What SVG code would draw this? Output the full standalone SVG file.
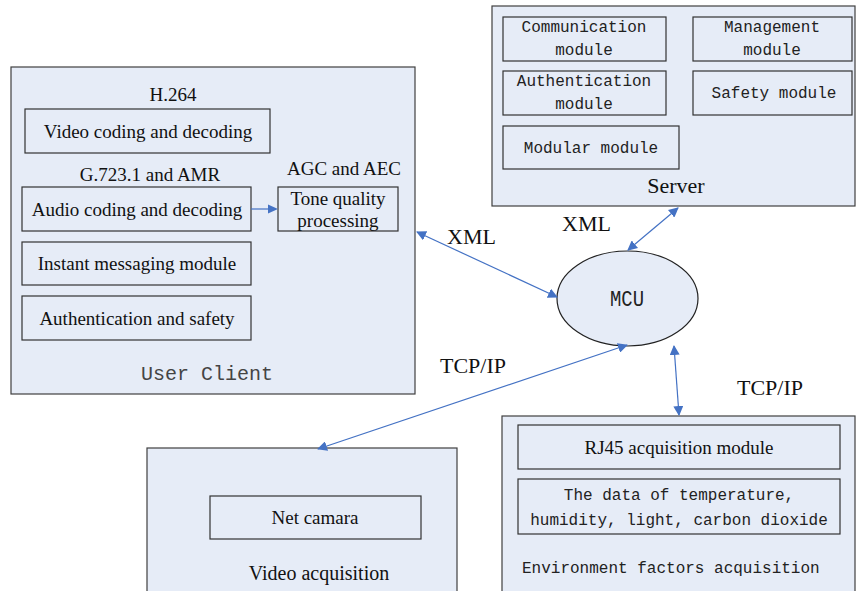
<svg xmlns="http://www.w3.org/2000/svg" width="856" height="591" viewBox="0 0 856 591">
<style>
.box{fill:#E6ECF7;stroke:#404040;stroke-width:1.2}
.inner{fill:#E6ECF7;stroke:#333;stroke-width:1.2}
.serif{font-family:"Liberation Serif","Times New Roman",serif;fill:#111}
.mono{font-family:"Liberation Mono","DejaVu Sans Mono",monospace;fill:#222}
.conn{stroke:#4472C4;stroke-width:1.2;fill:none;marker-start:url(#ah);marker-end:url(#ah)}
</style>
<defs>
<marker id="ah" viewBox="0 0 10 10" refX="9" refY="5" markerWidth="10" markerHeight="10" markerUnits="userSpaceOnUse" orient="auto-start-reverse">
<path d="M0,0 L10,5 L0,10 Z" fill="#4472C4"/>
</marker>
</defs>
<rect width="856" height="591" fill="#fff"/>

<g id="server">
<rect class="box" x="492" y="6" width="363" height="200"/>
<rect class="inner" x="503" y="17" width="163" height="44"/>
<text class="mono" font-size="16" text-anchor="middle" x="584" y="32">Communication</text>
<text class="mono" font-size="16" text-anchor="middle" x="584" y="55">module</text>
<rect class="inner" x="693" y="17" width="159" height="44"/>
<text class="mono" font-size="16" text-anchor="middle" x="772" y="32">Management</text>
<text class="mono" font-size="16" text-anchor="middle" x="772" y="55">module</text>
<rect class="inner" x="503" y="71" width="163" height="44"/>
<text class="mono" font-size="16" text-anchor="middle" x="584" y="86">Authentication</text>
<text class="mono" font-size="16" text-anchor="middle" x="584" y="109">module</text>
<rect class="inner" x="693" y="71" width="159" height="44"/>
<text class="mono" font-size="16" text-anchor="middle" x="774" y="98">Safety module</text>
<rect class="inner" x="503" y="126" width="176" height="43"/>
<text class="mono" font-size="16" text-anchor="middle" x="591" y="153">Modular module</text>
<text class="serif" font-size="22" text-anchor="middle" x="676" y="193">Server</text>
</g>

<g id="user-client">
<rect class="box" x="11" y="67" width="404" height="327"/>
<text class="serif" font-size="19" text-anchor="middle" x="173" y="101">H.264</text>
<rect class="inner" x="25" y="109" width="245" height="44"/>
<text class="serif" font-size="19" text-anchor="middle" x="148" y="138">Video coding and decoding</text>
<text class="serif" font-size="19" text-anchor="middle" x="150" y="181">G.723.1 and AMR</text>
<rect class="inner" x="22" y="187" width="229" height="44"/>
<text class="serif" font-size="19" text-anchor="middle" x="137" y="216">Audio coding and decoding</text>
<text class="serif" font-size="19" text-anchor="middle" x="344" y="175">AGC and AEC</text>
<rect class="inner" x="278" y="187" width="120" height="44"/>
<text class="serif" font-size="19" text-anchor="middle" x="338" y="205">Tone quality</text>
<text class="serif" font-size="19" text-anchor="middle" x="338" y="227">processing</text>
<rect class="inner" x="22" y="242" width="229" height="43"/>
<text class="serif" font-size="19" text-anchor="middle" x="137" y="270">Instant messaging module</text>
<rect class="inner" x="22" y="296" width="229" height="44"/>
<text class="serif" font-size="19" text-anchor="middle" x="137" y="325">Authentication and safety</text>
<text class="mono" font-size="20" text-anchor="middle" x="207" y="380" style="fill:#444">User Client</text>
</g>

<g id="mcu">
<ellipse cx="627.5" cy="298.5" rx="70.5" ry="47.5" fill="#E6ECF7" stroke="#222" stroke-width="1.2"/>
<text class="mono" font-size="22" text-anchor="middle" x="627" y="306" textLength="34" lengthAdjust="spacingAndGlyphs">MCU</text>
</g>

<g id="video-acquisition">
<rect class="box" x="147" y="448" width="310" height="150"/>
<rect class="inner" x="210" y="496" width="211" height="43"/>
<text class="serif" font-size="19" text-anchor="middle" x="315" y="524">Net camara</text>
<text class="serif" font-size="20" text-anchor="middle" x="319" y="580">Video acquisition</text>
</g>

<g id="environment">
<rect class="box" x="502" y="416" width="353" height="180"/>
<rect class="inner" x="518" y="425" width="322" height="44"/>
<text class="serif" font-size="19" text-anchor="middle" x="679" y="454">RJ45 acquisition module</text>
<rect class="inner" x="518" y="479" width="322" height="55"/>
<text class="mono" font-size="16" text-anchor="middle" x="679" y="500">The data of temperature,</text>
<text class="mono" font-size="16" text-anchor="middle" x="679" y="525">humidity, light, carbon dioxide</text>
<text class="mono" font-size="16" x="522" y="573">Environment factors acquisition</text>
</g>

<g id="connectors">
<line class="conn" x1="417" y1="232" x2="557" y2="297"/>
<line class="conn" x1="678" y1="208" x2="628" y2="250"/>
<line class="conn" x1="627" y1="345" x2="318" y2="449"/>
<line class="conn" x1="674" y1="346" x2="679" y2="415"/>
<line stroke="#4472C4" stroke-width="1.2" x1="251" y1="209" x2="268" y2="209"/>
<path d="M268,204.5 L278,209 L268,213.5 Z" fill="#4472C4"/>
<text class="serif" font-size="22" x="447" y="244">XML</text>
<text class="serif" font-size="22" x="562" y="231">XML</text>
<text class="serif" font-size="22" x="440" y="373">TCP/IP</text>
<text class="serif" font-size="22" x="737" y="395">TCP/IP</text>
</g>
</svg>
